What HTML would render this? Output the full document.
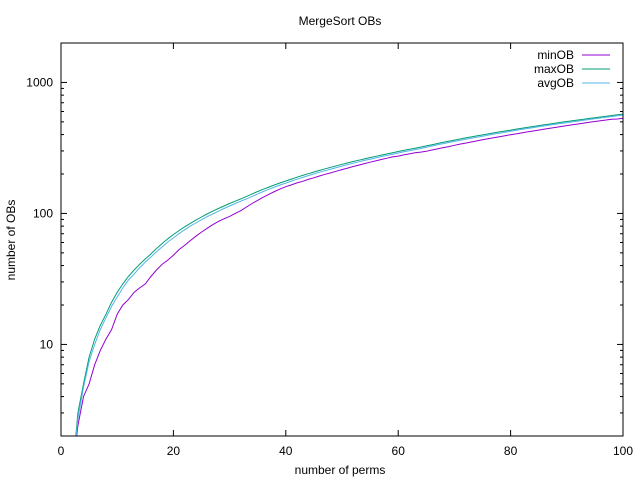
<!DOCTYPE html>
<html><head><meta charset="utf-8"><style>
body{margin:0;background:#fff}
svg{display:block;font-family:"Liberation Sans",sans-serif;font-size:12px}
</style></head><body>
<svg id="chart" width="640" height="480"></svg>
<script>
const ns="http://www.w3.org/2000/svg";
const xStart=2;
const maxOB=[1,3,5,8,11,14,17,21,25,29,33,37,41,45,49,54,59,64,69,74,79,84,89,94,99,104,109,114,119,124,129,
135,141,147,153,159,165,171,177,183,189,195,201,207,213,219,225,231,237,243,249,255,261,267,273,279,285,291,297,303,309,315,321,
328,335,342,349,356,363,370,377,384,391,398,405,412,419,426,433,440,447,454,461,468,475,482,489,496,503,510,517,524,531,538,545,552,559,566,573];
const avgOB=[1,2.7,4.7,7.4,10,13,16,19.5,23,27,31,34.5,38.5,42.5,46.5,51,55.5,60.5,65,70,75,80,84.5,89.5,94.5,99,104,109,114,119,124,
129,135,141,147,153,159,165,170.5,176.5,182.5,188.5,194.5,200.5,206.5,212,218,224,230,236,242,248,254,259.5,265.5,271.5,277.5,283.5,289.5,295.5,301,307,313,
320,327,334,341,348,355,361,368,375,382,389,396,403,410,417,424,431,438,445,452,459,466,473,480,487,493,500,507,514,521,528,535,542,549,556,563];
const minOB=[1,2.4,4,5,7,9,11,13,17,20,22,25,27,29,33,37,41,44,48,53,57,62,67,72,77,82,87,91,95,100,105,
112,119,126,133,140,147,154,160,165,171,176,182,187,193,199,204,210,216,222,228,234,240,246,252,258,264,270,274,280,285,291,294,
298,305,311,318,324,331,338,344,351,358,365,371,378,385,392,399,405,412,419,426,433,440,447,454,461,468,475,482,489,496,503,510,517,524,526,533];
const xTicks=[0,20,40,60,80,100];
const yTicks=[10,100,1000];
const L=61,R=623,T=43,B=436,ymin=2,ymax=2000;
const sx=v=>L+(R-L)*v/100;
const sy=v=>B-(B-T)*(Math.log10(v)-Math.log10(ymin))/(Math.log10(ymax)-Math.log10(ymin));
const svg=document.getElementById('chart');
function mk(t,a,txt){const e=document.createElementNS(ns,t);for(const k in a)e.setAttribute(k,a[k]);if(txt!==undefined)e.textContent=txt;svg.appendChild(e);return e;}
let e;
e=mk('text',{x:340,y:25,'text-anchor':'middle'},'MergeSort OBs');


xTicks.forEach(v=>{
 mk('line',{x1:sx(v),x2:sx(v),y1:B,y2:B-6,stroke:'#000'});
 mk('line',{x1:sx(v),x2:sx(v),y1:T,y2:T+6,stroke:'#000'});
 e=mk('text',{x:sx(v),y:455,'text-anchor':'middle'},String(v));
 
 
});
for(let d=1;d<=1000;d*=10){for(let m=1;m<10;m++){const v=d*m;if(v<ymin||v>ymax)continue;const len=(m===1)?6:3;
 mk('line',{x1:L,x2:L+len,y1:sy(v),y2:sy(v),stroke:'#000'});
 mk('line',{x1:R,x2:R-len,y1:sy(v),y2:sy(v),stroke:'#000'});}}
yTicks.forEach(v=>{
 e=mk('text',{x:53,y:sy(v)+4,'text-anchor':'end'},String(v));
 
 
});
e=mk('text',{x:340,y:474,'text-anchor':'middle'},'number of perms');


e=mk('text',{x:15,y:240,'text-anchor':'middle',transform:'rotate(-90 15 240)'},'number of OBs');


const defs=mk('defs',{});const cp=document.createElementNS(ns,'clipPath');cp.setAttribute('id','clip');defs.appendChild(cp);
const cr=document.createElementNS(ns,'rect');cr.setAttribute('x',L);cr.setAttribute('y',T);cr.setAttribute('width',R-L);cr.setAttribute('height',B-T);cp.appendChild(cr);
const series=[['minOB',minOB,'#9400d3'],['maxOB',maxOB,'#009e73'],['avgOB',avgOB,'#56b4e9']];
series.forEach((s,i)=>{
 const pts=s[1].map((v,j)=>sx(xStart+j).toFixed(1)+','+sy(v).toFixed(1)).join(' ');
 e=mk('polyline',{points:pts,fill:'none',stroke:s[2],'stroke-width':1,'clip-path':'url(#clip)'});
 
 
 const ly=55+i*14;
 e=mk('text',{x:574,y:ly+4,'text-anchor':'end'},s[0]);
 
 
 e=mk('line',{x1:582,x2:610,y1:ly,y2:ly,stroke:s[2]});
 
 
});
e=mk('rect',{x:L,y:T,width:R-L,height:B-T,fill:'none',stroke:'#000'});


</script>
</body></html>
